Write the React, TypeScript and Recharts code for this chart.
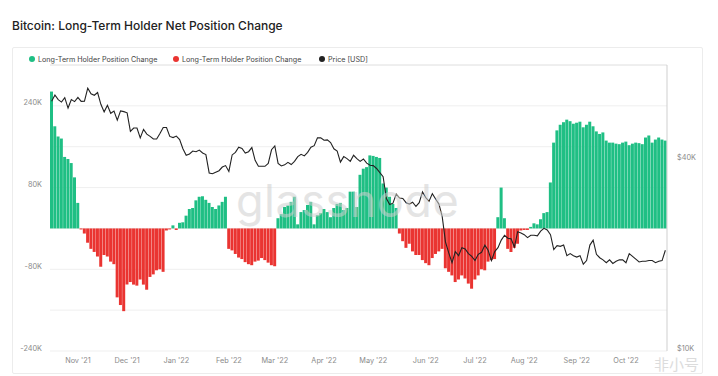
import React from 'react';
import { ComposedChart, Bar, Line, XAxis, YAxis, CartesianGrid, ReferenceLine } from 'recharts';

// one bar every 2 days, starting 17 Oct 2021
const startDate = Date.UTC(2021, 9, 17);
const stepDays = 2;

// Long-term holder net position change (BTC)
const lthChange = [
  268000, 200000, 180000, 176000, 140000, 136000, 128000, 100000, 50000, -2000,
  -10000, -28000, -40000, -46000, -55000, -75000, -52000, -55000, -65000, -70000,
  -135000, -150000, -162000, -110000, -105000, -110000, -112000, -100000, -110000, -120000,
  -95000, -90000, -82000, -80000, -85000, -4000, -2000, 6000, -3000, 11000,
  12000, 25000, 38000, 40000, 55000, 62000, 63000, 56000, 50000, 42000,
  38000, 45000, 52000, 62000, -40000, -43000, -50000, -57000, -60000, -66000,
  -70000, -72000, -65000, -63000, -58000, -62000, -67000, -72000, -74000, 20000,
  28000, 42000, 45000, 52000, 62000, 8000, 32000, 36000, 46000, 52000,
  8000, 26000, 30000, 38000, 32000, 22000, 40000, 48000, 50000, 36000,
  40000, 72000, 72000, 42000, 105000, 117000, 120000, 143000, 142000, 140000,
  138000, 88000, 80000, 62000, 48000, 40000, -10000, -25000, -38000, -30000,
  -45000, -52000, -52000, -62000, -68000, -72000, -58000, -50000, -45000, -40000,
  -78000, -85000, -92000, -105000, -100000, -92000, -98000, -108000, -118000, -100000,
  -92000, -80000, -82000, -65000, -62000, -60000, 22000, 80000, 20000, -40000,
  -46000, -38000, -30000, -4000, -3000, -3000, 3000, 10000, 8000, 18000,
  30000, 32000, 90000, 168000, 192000, 203000, 208000, 213000, 210000, 205000,
  207000, 209000, 198000, 203000, 209000, 200000, 190000, 185000, 188000, 172000,
  168000, 168000, 166000, 165000, 168000, 170000, 163000, 166000, 168000, 167000,
  165000, 178000, 182000, 168000, 174000, 178000, 174000, 172000,
];

// BTC price in USD
const btcPrice = [
  61500, 64300, 62200, 61100, 63100, 58500, 62200, 61300, 63200, 61400,
  61500, 67600, 64900, 64200, 65500, 60100, 56900, 59700, 56300, 57200,
  53600, 57300, 57000, 56500, 49400, 50600, 50600, 47100, 50100, 48400,
  47600, 46700, 46700, 48600, 50800, 50800, 47600, 47200, 47700, 46500,
  43500, 41500, 41900, 42800, 42600, 43100, 42200, 41700, 36500, 36300,
  36700, 37100, 38100, 38500, 36900, 41600, 42400, 44000, 43600, 42200,
  42600, 43900, 40000, 38300, 38300, 38300, 39100, 43200, 44400, 39100,
  38400, 38700, 39400, 38800, 39700, 41100, 41800, 41300, 42400, 44000,
  44500, 47100, 47100, 46300, 46400, 45500, 43500, 42800, 39500, 41100,
  40500, 39700, 41500, 40500, 39700, 40400, 39200, 38600, 38500, 37700,
  36600, 35500, 30300, 29000, 29300, 31300, 30400, 30300, 29400, 29100,
  29500, 28600, 29400, 31800, 30500, 29700, 31400, 30200, 29100, 26600,
  22100, 20400, 19000, 20600, 20000, 21200, 21000, 20300, 19900, 19300,
  20200, 20500, 21600, 20800, 19300, 20600, 21200, 22400, 23200, 22700,
  22600, 21300, 23800, 23600, 23300, 22800, 23200, 23200, 23100, 23900,
  24400, 24100, 23300, 20900, 21500, 21400, 21600, 20000, 20300, 20000,
  19800, 20000, 18800, 19300, 21600, 22400, 20200, 19700, 19400, 19000,
  19400, 18900, 19200, 19400, 19400, 19000, 20300, 19900, 19500, 19100,
  19200, 19200, 19300, 19300, 19000, 19200, 19300, 20800,
];

const leftTicks = [-240000, -160000, -80000, 0, 80000, 160000, 240000];
const leftLabelled = [-240000, -80000, 80000, 240000];
const priceTicks = [10000, 40000];
const monthNames = ['Jan', 'Feb', 'Mar', 'Apr', 'May', 'Jun', 'Jul', 'Aug', 'Sep', 'Oct', 'Nov', 'Dec'];

const GREEN = '#1fbf84';
const RED = '#ea3431';
const TICK = { fontSize: 7.3, fill: '#8a8a8a' };

const data = lthChange.map((v, i) => {
  const d = new Date(startDate + i * stepDays * 86400000);
  return {
    date: d.toISOString().slice(0, 10),
    pos: v > 0 ? v : 0,
    neg: v < 0 ? v : 0,
    price: btcPrice[i],
  };
});

// first bar of each month gets the label
const monthTicks = data.map(d => d.date).filter(s => Number(s.slice(8, 10)) <= 2);

const fmtMonth = (s: string) => `${monthNames[Number(s.slice(5, 7)) - 1]} '${s.slice(2, 4)}`;

const LegendItem = ({ x, color, label }: { x: number; color: string; label: string }) => (
  <div style={{ position: 'absolute', left: x, top: 54, height: 10, display: 'flex', alignItems: 'center', fontSize: 7.2, color: '#444', whiteSpace: 'nowrap' }}>
    <span style={{ width: 6, height: 6, borderRadius: 3, background: color, marginRight: 3 }} />
    {label}
  </div>
);

export default function App() {
  return (
    <div style={{ position: 'absolute', left: 0, top: 0, width: 718, height: 376, background: '#fff', fontFamily: 'Inter, sans-serif', overflow: 'hidden' }}>
      <div style={{ position: 'absolute', left: 12, top: 20, fontSize: 12, lineHeight: '12px', fontWeight: 500, color: '#222', whiteSpace: 'nowrap' }}>
        Bitcoin: Long-Term Holder Net Position Change
      </div>
      <div style={{ position: 'absolute', left: 12, top: 47, width: 689, height: 325, border: '1px solid #ececec', borderRadius: 2 }} />

      <div style={{ position: 'absolute', left: 0, top: 0 }}>
        <ComposedChart
          width={718}
          height={376}
          data={data}
          stackOffset="sign"
          barCategoryGap={0}
          margin={{ top: 65, right: 11, bottom: 5, left: 10 }}
        >
          <CartesianGrid yAxisId="left" vertical={false} stroke="#efefef" />
          <ReferenceLine yAxisId="left" y={320000} stroke="#e6e6e6" />
          <XAxis
            dataKey="date"
            ticks={monthTicks}
            interval={0}
            tickFormatter={fmtMonth}
            tickLine={false}
            axisLine={false}
            tickSize={0}
            tickMargin={7}
            height={20}
            tick={TICK}
          />
          <YAxis
            yAxisId="left"
            domain={[-240000, 320000]}
            ticks={leftTicks}
            interval={0}
            tickFormatter={(v: number) => (leftLabelled.includes(v) ? `${v / 1000}K` : '')}
            tickLine={false}
            axisLine={false}
            width={40}
            tick={{ ...TICK, dy: -3 }}
          />
          <YAxis
            yAxisId="right"
            orientation="right"
            scale="log"
            domain={[10000, 80000]}
            allowDataOverflow
            ticks={priceTicks}
            interval={0}
            tickFormatter={(v: number) => `$${v / 1000}K`}
            tickLine={false}
            axisLine={{ stroke: '#cfcfcf' }}
            tickMargin={4}
            width={40}
            tick={{ ...TICK, dy: -3 }}
          />
          <Bar yAxisId="left" dataKey="pos" stackId="lth" name="Long-Term Holder Position Change" fill={GREEN} isAnimationActive={false} />
          <Bar yAxisId="left" dataKey="neg" stackId="lth" name="Long-Term Holder Position Change" fill={RED} isAnimationActive={false} />
          <Line yAxisId="right" dataKey="price" name="Price [USD]" stroke="#222" strokeWidth={1.1} dot={false} type="linear" isAnimationActive={false} />
        </ComposedChart>
      </div>

      <LegendItem x={29} color={GREEN} label="Long-Term Holder Position Change" />
      <LegendItem x={173} color={RED} label="Long-Term Holder Position Change" />
      <LegendItem x={319} color="#222" label="Price [USD]" />

      <div style={{ position: 'absolute', left: 236, top: 176, fontSize: 45, lineHeight: '50px', color: '#cfcfcf', opacity: 0.55, letterSpacing: 0.5, pointerEvents: 'none' }}>
        glassnode
      </div>
      <div style={{ position: 'absolute', left: 654, top: 355, fontSize: 15, lineHeight: '18px', color: '#d4d4d4', opacity: 0.8, fontFamily: '"Noto Sans CJK SC"', pointerEvents: 'none' }}>
        非小号
      </div>
    </div>
  );
}
